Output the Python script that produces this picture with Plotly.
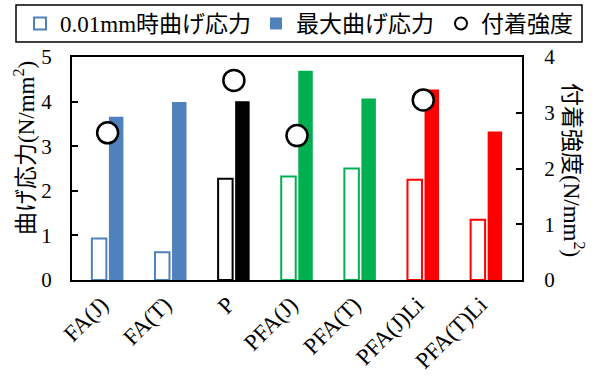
import plotly.graph_objects as go

categories = ["FA(J)", "FA(T)", "P", "PFA(J)", "PFA(T)", "PFA(J)Li", "PFA(T)Li"]
stress_001mm = [0.93, 0.62, 2.27, 2.32, 2.50, 2.25, 1.35]
stress_max = [3.66, 3.99, 4.01, 4.69, 4.07, 4.27, 3.33]
bond_strength = [2.64, None, 3.58, 2.59, None, 3.23, None]
bar_colors = ["#4F81BD", "#4F81BD", "#000000", "#00B050", "#00B050", "#FF0000", "#FF0000"]

FONT = "Liberation Serif, Noto Sans CJK JP, serif"
W, H = 595, 378

fig = go.Figure()
fig.add_trace(go.Bar(
    x=categories, y=stress_001mm, name="0.01mm時曲げ応力", legend="legend",
    marker=dict(color="white", line=dict(color=bar_colors, width=2)),
))
fig.add_trace(go.Bar(
    x=categories, y=stress_max, name="最大曲げ応力", legend="legend2",
    marker=dict(color=bar_colors, line=dict(width=0)),
))
fig.add_trace(go.Scatter(
    x=categories, y=bond_strength, name="付着強度", yaxis="y2", mode="markers",
    legend="legend3",
    marker=dict(symbol="circle", size=21, color="white", line=dict(color="black", width=2.5)),
))

def leg(left_px, top_px):
    return dict(
        orientation="h", xref="container", yref="container",
        x=left_px / W, xanchor="left", y=1 - top_px / H, yanchor="top",
        borderwidth=0, bgcolor="rgba(0,0,0,0)",
        font=dict(family=FONT, size=23, color="black"),
        itemsizing="constant",
    )

fig.update_layout(
    width=W, height=H,
    margin=dict(l=72, r=73, t=57, b=98, autoexpand=False),
    paper_bgcolor="white", plot_bgcolor="white",
    font=dict(family=FONT, size=20, color="black"),
    barmode="group", bargap=0.46, bargroupgap=0.15,
    showlegend=True,
    legend=leg(20, 2), legend2=leg(256, 2), legend3=leg(441, 2),
    xaxis=dict(
        showline=True, linecolor="black", linewidth=2, mirror=True,
        ticks="", tickangle=-45, showgrid=False, ticklabelshift=-6,
        tickfont=dict(family=FONT, size=23),
    ),
    yaxis=dict(
        range=[0, 5], dtick=1, showline=True, linecolor="black", linewidth=2,
        ticks="inside", ticklen=6, tickwidth=1.5, tickcolor="black",
        showgrid=False, zeroline=False, ticklabelstandoff=14,
        tickfont=dict(family=FONT, size=21),
    ),
    yaxis2=dict(
        range=[0, 4], dtick=1, overlaying="y", side="right",
        showline=True, linecolor="black", linewidth=2,
        ticks="inside", ticklen=6, tickwidth=1.5, tickcolor="black",
        showgrid=False, zeroline=False, ticklabelstandoff=16,
        tickfont=dict(family=FONT, size=21),
    ),
    shapes=[
        dict(type="rect", xref="paper", yref="paper",
             x0=(16 - 72) / 450, x1=(582 - 72) / 450,
             y0=(280 - 42) / 223, y1=(280 - 5) / 223,
             line=dict(color="black", width=1.5), fillcolor="rgba(0,0,0,0)"),
    ],
    annotations=[
        dict(text="曲げ応力(N/mm<sup>2</sup>)", xref="paper", yref="paper",
             x=(24 - 72) / 450, y=(280 - 148) / 223, xanchor="center", yanchor="middle",
             textangle=-90, showarrow=False, font=dict(family=FONT, size=23)),
        dict(text="付着強度(N/mm<sup>2</sup>)", xref="paper", yref="paper",
             x=(574 - 72) / 450, y=(280 - 170) / 223, xanchor="center", yanchor="middle",
             textangle=90, showarrow=False, font=dict(family=FONT, size=23)),
    ],
)

fig.write_html("out.html", config={"displayModeBar": False},
               post_script="document.body.style.margin='0px';")
